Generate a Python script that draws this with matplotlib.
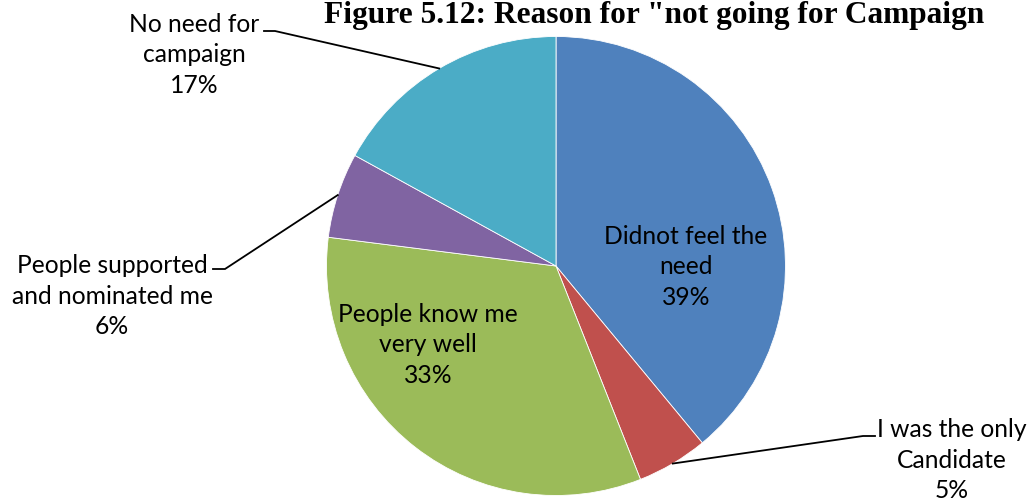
import numpy as np
import matplotlib
matplotlib.use("Agg")
import matplotlib.pyplot as plt

# Survey responses: reasons for not campaigning
categories = ["Didnot feel the\nneed", "I was the only\nCandidate",
              "People know me\nvery well", "People supported\nand nominated me",
              "No need for\ncampaign"]
shares = [39, 5, 33, 6, 17]
colors = ["#4F81BD", "#C0504D", "#9BBB59", "#8064A2", "#4BACC6"]
title = 'Figure 5.12: Reason for "not going for Campaign'

W, H = 1032, 504
fig = plt.figure(figsize=(W / 100, H / 100), dpi=100)
ax = fig.add_axes([0, 0, 1, 1])


def Y(y):
    # convert top-down pixel row into axes y
    return H - y


cx, cy, R = 556, Y(266), 229.5
wedges, _ = ax.pie(shares, colors=colors, startangle=90, counterclock=False,
                   center=(cx, cy), radius=R, frame=True,
                   wedgeprops=dict(edgecolor="white", linewidth=0.6))
ax.set_xlim(0, W)
ax.set_ylim(0, H)
ax.set_aspect("equal")
ax.axis("off")

label_font = dict(family="Lato", fontsize=17.7, color="black",
                  ha="center", va="center", linespacing=1.42)


def label_text(i):
    return f"{categories[i]}\n{shares[i]}%"


def edge_point(i):
    w = wedges[i]
    mid = np.deg2rad((w.theta1 + w.theta2) / 2)
    return cx + R * np.cos(mid), cy + R * np.sin(mid)


# labels inside the larger slices
ax.text(686, Y(267), label_text(0), **label_font)
ax.text(428, Y(345), label_text(2), **label_font)

# outside labels with leader lines: (index, text centre, elbow, line end)
outside = [
    (1, (952, 460), (863, 436), (875, 436)),
    (3, (112, 296), (225, 269), (213, 269)),
    (4, (194, 55), (275, 31), (264, 31)),
]
for i, (tx, ty), (ex, ey), (lx, ly) in outside:
    px, py = edge_point(i)
    ax.plot([px, ex, lx], [py, Y(ey), Y(ly)], color="black", lw=1.3,
            solid_joinstyle="miter")
    ax.text(tx, Y(ty), label_text(i), **label_font)

ax.text(654, Y(23), title, family="Liberation Serif", fontweight="bold",
        fontsize=22.6, ha="center", va="baseline", color="black")

fig.savefig("out.png", dpi=100)
